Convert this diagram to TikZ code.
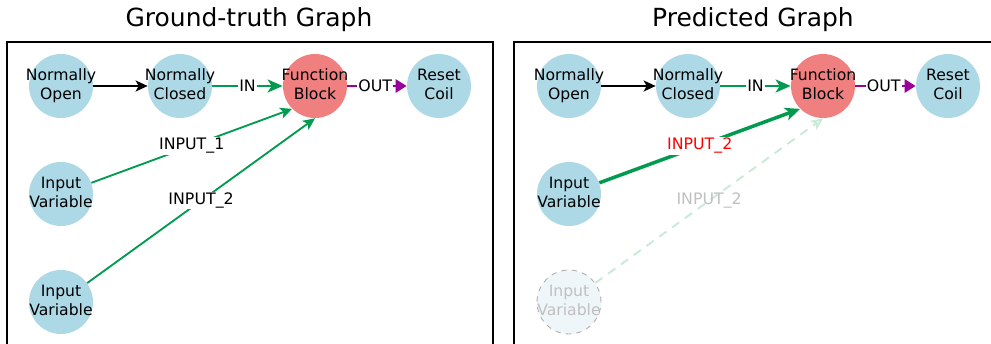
\documentclass[tikz,border=0pt]{standalone}
\usepackage{fontspec}
\setmainfont{DejaVu Sans}
\usetikzlibrary{arrows.meta}
\definecolor{nodeblue}{RGB}{173,216,230}
\definecolor{nodered}{RGB}{240,128,128}
\definecolor{edgegreen}{RGB}{0,155,78}
\definecolor{edgepurple}{RGB}{153,0,153}
\definecolor{ghostfill}{RGB}{238,246,249}
\definecolor{ghostline}{RGB}{175,175,175}
\definecolor{ghosttext}{RGB}{192,192,192}
\definecolor{ghostgreen}{RGB}{200,234,214}
% two lines of text that do not widen the circle
\newcommand{\twoline}[2]{\raisebox{-1.2pt}{\makebox[0pt]{\begin{tabular}{@{}c@{}}#1\\#2\end{tabular}}}}
\tikzset{
  bluenode/.style={circle, fill=nodeblue, draw=none, minimum size=1.28cm, inner sep=0,
    font=\fontsize{8.9}{10.6}\selectfont},
  rednode/.style={bluenode, fill=nodered},
  ghostnode/.style={bluenode, fill=ghostfill, draw=ghostline, dashed, line width=0.5pt,
    text=ghosttext},
  panel/.style={draw=black, line width=1.2pt},
  title/.style={anchor=base, font=\fontsize{14.2}{16}\selectfont},
  elabel/.style={fill=white, inner sep=0.6pt, text=black, font=\fontsize{9}{10}\selectfont},
  blackarrow/.style={-{Stealth[length=12*0.02cm, width=11*0.02cm, inset=3*0.02cm]},
    line width=1.05pt, black},
  inarrow/.style={-{Stealth[length=15*0.02cm, width=13*0.02cm, inset=4*0.02cm]},
    line width=1.7pt, edgegreen},
  outarrow/.style={-{Triangle[length=11*0.02cm, width=13*0.02cm]},
    line width=1.7pt, edgepurple},
  thinarrow/.style={-{Stealth[length=12*0.02cm, width=11*0.02cm, inset=3*0.02cm]},
    line width=1.05pt, edgegreen},
  thickarrow/.style={-{Stealth[length=15*0.02cm, width=13*0.02cm, inset=4*0.02cm]},
    line width=2pt, edgegreen},
  ghostarrow/.style={-{Stealth[length=12*0.02cm, width=11*0.02cm, inset=3*0.02cm, open]},
    line width=1.1pt, ghostgreen, dash pattern=on 5pt off 4pt}
}
\begin{document}
\begin{tikzpicture}[x=0.02cm, y=-0.02cm]
\useasboundingbox (0,0) rectangle (991,344);

% panels
\draw[panel] (7,346) |- (493,42) -- (493,346);
\draw[panel] (514,346) |- (995,42);
\node[title] (t1) at (249,27) {Ground-truth Graph};
\node[title] (t2) at (753,27) {Predicted Graph};

% ground truth
\node[bluenode] (no1) at (61,86) {\twoline{Normally}{Open}};
\node[bluenode] (nc1) at (180,86) {\twoline{Normally}{Closed}};
\node[rednode] (fb1) at (315,86) {\twoline{Function}{Block}};
\node[bluenode] (rc1) at (439,86) {\twoline{Reset}{Coil}};
\node[bluenode] (iva1) at (61,194) {\twoline{Input}{Variable}};
\node[bluenode] (ivb1) at (61,302) {\twoline{Input}{Variable}};

\draw[blackarrow] (no1) -- (nc1);
\draw[inarrow] (nc1) -- node[elabel] {IN} (fb1);
\draw[outarrow] (fb1) -- node[elabel, pos=0.47] {OUT} (rc1);
\draw[thinarrow] (iva1) -- node[elabel] {INPUT\_1} (fb1.south west);
\draw[thinarrow] (ivb1) -- node[elabel] {INPUT\_2} (fb1.south);

% prediction
\node[bluenode] (no2) at (569,86) {\twoline{Normally}{Open}};
\node[bluenode] (nc2) at (688,86) {\twoline{Normally}{Closed}};
\node[rednode] (fb2) at (823,86) {\twoline{Function}{Block}};
\node[bluenode] (rc2) at (948,86) {\twoline{Reset}{Coil}};
\node[bluenode] (iva2) at (569,194) {\twoline{Input}{Variable}};
\node[ghostnode] (ivb2) at (569,302) {\twoline{Input}{Variable}};

\draw[blackarrow] (no2) -- (nc2);
\draw[inarrow] (nc2) -- node[elabel] {IN} (fb2);
\draw[outarrow] (fb2) -- node[elabel, pos=0.47] {OUT} (rc2);
\draw[thickarrow] (iva2) -- node[elabel, text=red] {INPUT\_2} (fb2.south west);
\draw[ghostarrow] (ivb2) -- node[elabel, fill=none, text=ghosttext] {INPUT\_2} (fb2.south);
\end{tikzpicture}
\end{document}
